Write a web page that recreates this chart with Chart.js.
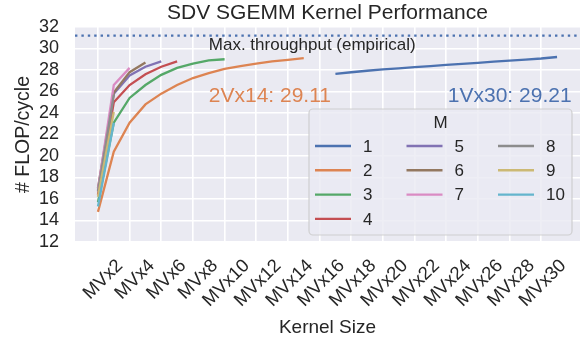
<!DOCTYPE html>
<html><head><meta charset="utf-8">
<script src="https://cdn.jsdelivr.net/npm/chart.js@4.4.1/dist/chart.umd.min.js"></script>
<style>html,body{margin:0;padding:0;background:#fff}</style>
</head><body><canvas id="c" width="584" height="345"></canvas>
<script>
// ---- data ----
const X_TICK_LABELS = ['MVx2','MVx4','MVx6','MVx8','MVx10','MVx12','MVx14','MVx16','MVx18','MVx20','MVx22','MVx24','MVx26','MVx28','MVx30'];
const SERIES_NAMES = ['1','2','3','4','5','6','7','8','9','10'];
const START_INDEX = [15,0,0,0,0,0,0,0,0,0];
const PERF_M1 = [27.63,27.79,27.93,28.05,28.16,28.27,28.37,28.47,28.57,28.67,28.77,28.87,28.97,29.07,29.21];
const PERF_M2 = [14.8,20.4,23.1,24.8,25.8,26.6,27.25,27.7,28.1,28.35,28.6,28.8,28.95,29.11];
const PERF_M3 = [15.7,23.1,25.4,26.6,27.55,28.2,28.6,28.9,29.0];
const PERF_M4 = [16.4,25.0,26.6,27.6,28.3,28.8];
const PERF_M5 = [16.8,25.8,27.5,28.3,28.8];
const PERF_M6 = [17.0,25.9,27.8,28.7];
const PERF_M7 = [16.9,26.6,28.2];
const PERF_M8 = [16.7,25.7];
const PERF_M9 = [16.2,24.1];
const PERF_M10 = [15.3,23.1];
const MAX_THROUGHPUT = 31.2;
const Y_MIN = 12, Y_MAX = 32, Y_STEP = 2;

// ---- style ----
const COLORS = ['#4C72B0','#DD8452','#55A868','#C44E52','#8172B3','#937860','#DA8BC3','#8C8C8C','#CCB974','#64B5CD'];
const FONT = '"Liberation Sans", Arial, sans-serif';
const TXT = '#262626';
const ALL = [PERF_M1,PERF_M2,PERF_M3,PERF_M4,PERF_M5,PERF_M6,PERF_M7,PERF_M8,PERF_M9,PERF_M10];

const datasets = ALL.map((arr, k) => ({
  label: SERIES_NAMES[k],
  data: arr.map((y, i) => ({x: START_INDEX[k] + i, y})),
  borderColor: COLORS[k],
  backgroundColor: COLORS[k],
  borderWidth: 2.3,
  pointRadius: 0,
  tension: 0,
  fill: false,
  order: ALL.length - k
}));

const last = a => a[a.length - 1];
const ANNOTATIONS = [
  {text: 'Max. throughput (empirical)', x: 7, y: 29.85, color: TXT, size: 17},
  {text: '2Vx' + (START_INDEX[1] + PERF_M2.length) + ': ' + last(PERF_M2).toFixed(2), x: 7, y: 25.0, color: COLORS[1], size: 21},
  {text: '1Vx' + (START_INDEX[0] + PERF_M1.length) + ': ' + last(PERF_M1).toFixed(2), x: 22.1, y: 25.0, color: COLORS[0], size: 21}
];

const decor = {
  id: 'decor',
  beforeDraw(chart) {
    const {ctx, chartArea: a} = chart;
    ctx.save();
    ctx.fillStyle = '#EAEAF2';
    ctx.fillRect(a.left, a.top, a.right - a.left, a.bottom - a.top);
    ctx.restore();
  },
  afterDatasetsDraw(chart) {
    const {ctx, chartArea: a, scales: {y}} = chart;
    const py = y.getPixelForValue(MAX_THROUGHPUT);
    ctx.save();
    ctx.strokeStyle = COLORS[0];
    ctx.lineWidth = 2.4;
    ctx.setLineDash([2.4, 4.0]);
    ctx.beginPath(); ctx.moveTo(a.left, py); ctx.lineTo(a.right, py); ctx.stroke();
    ctx.restore();
  },
  afterDraw(chart) {
    const {ctx, chartArea: a, scales: {x, y}} = chart;
    ctx.save();
    ctx.textBaseline = 'alphabetic'; ctx.textAlign = 'left';
    ANNOTATIONS.forEach(t => {
      ctx.font = t.size + 'px ' + FONT; ctx.fillStyle = t.color;
      ctx.fillText(t.text, x.getPixelForValue(t.x), y.getPixelForValue(t.y));
    });
    const cx = (a.left + a.right) / 2;
    ctx.fillStyle = TXT; ctx.textAlign = 'center'; ctx.textBaseline = 'middle';
    ctx.font = '21px ' + FONT;
    ctx.fillText('SDV SGEMM Kernel Performance', cx, 13);
    ctx.font = '19px ' + FONT;
    ctx.fillText('Kernel Size', cx, 328);
    ctx.save();
    ctx.translate(24, (a.top + a.bottom) / 2); ctx.rotate(-Math.PI / 2);
    ctx.font = '19.5px ' + FONT;
    ctx.fillText('# FLOP/cycle', 0, 0);
    ctx.restore();
    // legend
    const W = 263, H = 126, L = a.right - 8 - W, T = a.bottom - 7 - H;
    ctx.fillStyle = 'rgba(234,234,242,0.8)';
    ctx.strokeStyle = 'rgba(204,204,204,0.9)';
    ctx.lineWidth = 1.2;
    ctx.beginPath(); ctx.roundRect(L, T, W, H, 4); ctx.fill(); ctx.stroke();
    ctx.fillStyle = TXT; ctx.font = '17px ' + FONT;
    ctx.textAlign = 'center';
    ctx.fillText('M', L + W / 2, T + 14);
    const perCol = [4, 3, 3];
    let k = 0;
    perCol.forEach((n, c) => {
      for (let r = 0; r < n; r++, k++) {
        const hx = L + 6 + c * 91.5, ry = T + 37 + r * 24.3;
        ctx.strokeStyle = COLORS[k]; ctx.lineWidth = 2.4;
        ctx.beginPath(); ctx.moveTo(hx, ry); ctx.lineTo(hx + 36, ry); ctx.stroke();
        ctx.fillStyle = TXT; ctx.textAlign = 'left';
        ctx.fillText(SERIES_NAMES[k], hx + 48, ry + 1);
      }
    });
    ctx.restore();
  }
};

new Chart(document.getElementById('c'), {
  type: 'line',
  data: {datasets},
  plugins: [decor],
  options: {
    responsive: false, animation: false, devicePixelRatio: 1,
    layout: {padding: {top: 27, right: 4, left: 0, bottom: 0}},
    plugins: {legend: {display: false}, title: {display: false}, tooltip: {enabled: false}},
    scales: {
      x: {
        type: 'linear', min: -1.45, max: 30.45,
        afterBuildTicks: s => { s.ticks = X_TICK_LABELS.map((_, i) => ({value: 2 * i})); },
        afterFit: s => { s.height = 103; },
        grid: {color: '#ffffff', lineWidth: 1.6, drawTicks: false},
        border: {display: false},
        ticks: {autoSkip: false, maxRotation: 45, minRotation: 45, padding: 13, labelOffset: 22,
          color: TXT, font: {family: FONT, size: 18.5},
          callback: (v, i) => X_TICK_LABELS[i]}
      },
      y: {
        min: Y_MIN, max: Y_MAX,
        afterBuildTicks: s => { const t = []; for (let v = Y_MIN; v <= Y_MAX; v += Y_STEP) t.push({value: v}); s.ticks = t; },
        afterFit: s => { s.width = 75; },
        grid: {color: '#ffffff', lineWidth: 1.6, drawTicks: false},
        border: {display: false},
        ticks: {autoSkip: false, stepSize: Y_STEP, padding: 16, color: TXT, font: {family: FONT, size: 18}}
      }
    }
  }
});
</script></body></html>
